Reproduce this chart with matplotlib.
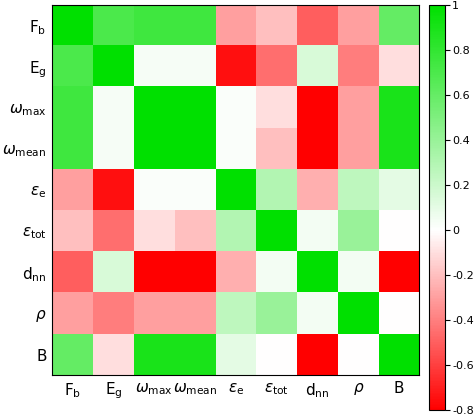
import numpy as np
import matplotlib
matplotlib.use("Agg")
import matplotlib.pyplot as plt
from matplotlib.colors import LinearSegmentedColormap, Normalize

labels = [r"F$_\mathrm{b}$", r"E$_\mathrm{g}$", r"$\omega_\mathrm{max}$", r"$\omega_\mathrm{mean}$",
          r"$\epsilon_\mathrm{e}$", r"$\epsilon_\mathrm{tot}$", r"d$_\mathrm{nn}$", r"$\rho$", "B"]
corr = np.array([
    [1.00, 0.70, 0.75, 0.75, -0.30, -0.20, -0.50, -0.30, 0.60],
    [0.70, 1.00, 0.03, 0.03, -0.75, -0.45, 0.15, -0.40, -0.10],
    [0.75, 0.03, 1.00, 1.00, 0.02, -0.10, -0.85, -0.30, 0.90],
    [0.75, 0.03, 1.00, 1.00, 0.02, -0.20, -0.80, -0.30, 0.90],
    [-0.30, -0.75, 0.02, 0.02, 1.00, 0.30, -0.25, 0.25, 0.10],
    [-0.20, -0.45, -0.10, -0.20, 0.30, 1.00, 0.05, 0.40, 0.00],
    [-0.50, 0.15, -0.85, -0.80, -0.25, 0.05, 1.00, 0.05, -0.80],
    [-0.30, -0.40, -0.30, -0.30, 0.25, 0.40, 0.05, 1.00, 0.00],
    [0.60, -0.10, 0.90, 0.90, 0.10, 0.00, -0.80, 0.00, 1.00],
])

vmin, vmax = -0.8, 1.0
z = (0 - vmin) / (vmax - vmin)
cmap = LinearSegmentedColormap.from_list("rg", [(0, "#ff0000"), (z, "#ffffff"), (1, "#00e000")])

fig = plt.figure(figsize=(4.74, 4.17), dpi=100)
ax = fig.add_axes([0.11, 0.1, 0.775, 0.888])
im = ax.imshow(corr, cmap=cmap, norm=Normalize(vmin, vmax), aspect="auto")
ax.set_xticks(range(9))
ax.set_yticks(range(9))
ax.set_xticklabels(labels, fontsize=11)
ax.set_yticklabels(labels, fontsize=11)
ax.tick_params(length=0, pad=4)
for s in ax.spines.values():
    s.set_linewidth(0.8)
cax = fig.add_axes([0.905, 0.017, 0.033, 0.97])
cb = fig.colorbar(im, cax=cax, ticks=np.arange(-0.8, 1.01, 0.2))
cb.ax.set_yticklabels(["-0.8", "-0.6", "-0.4", "-0.2", "0", "0.2", "0.4", "0.6", "0.8", "1"])
cb.ax.tick_params(labelsize=8, pad=2)
fig.savefig("out.png", dpi=100)
